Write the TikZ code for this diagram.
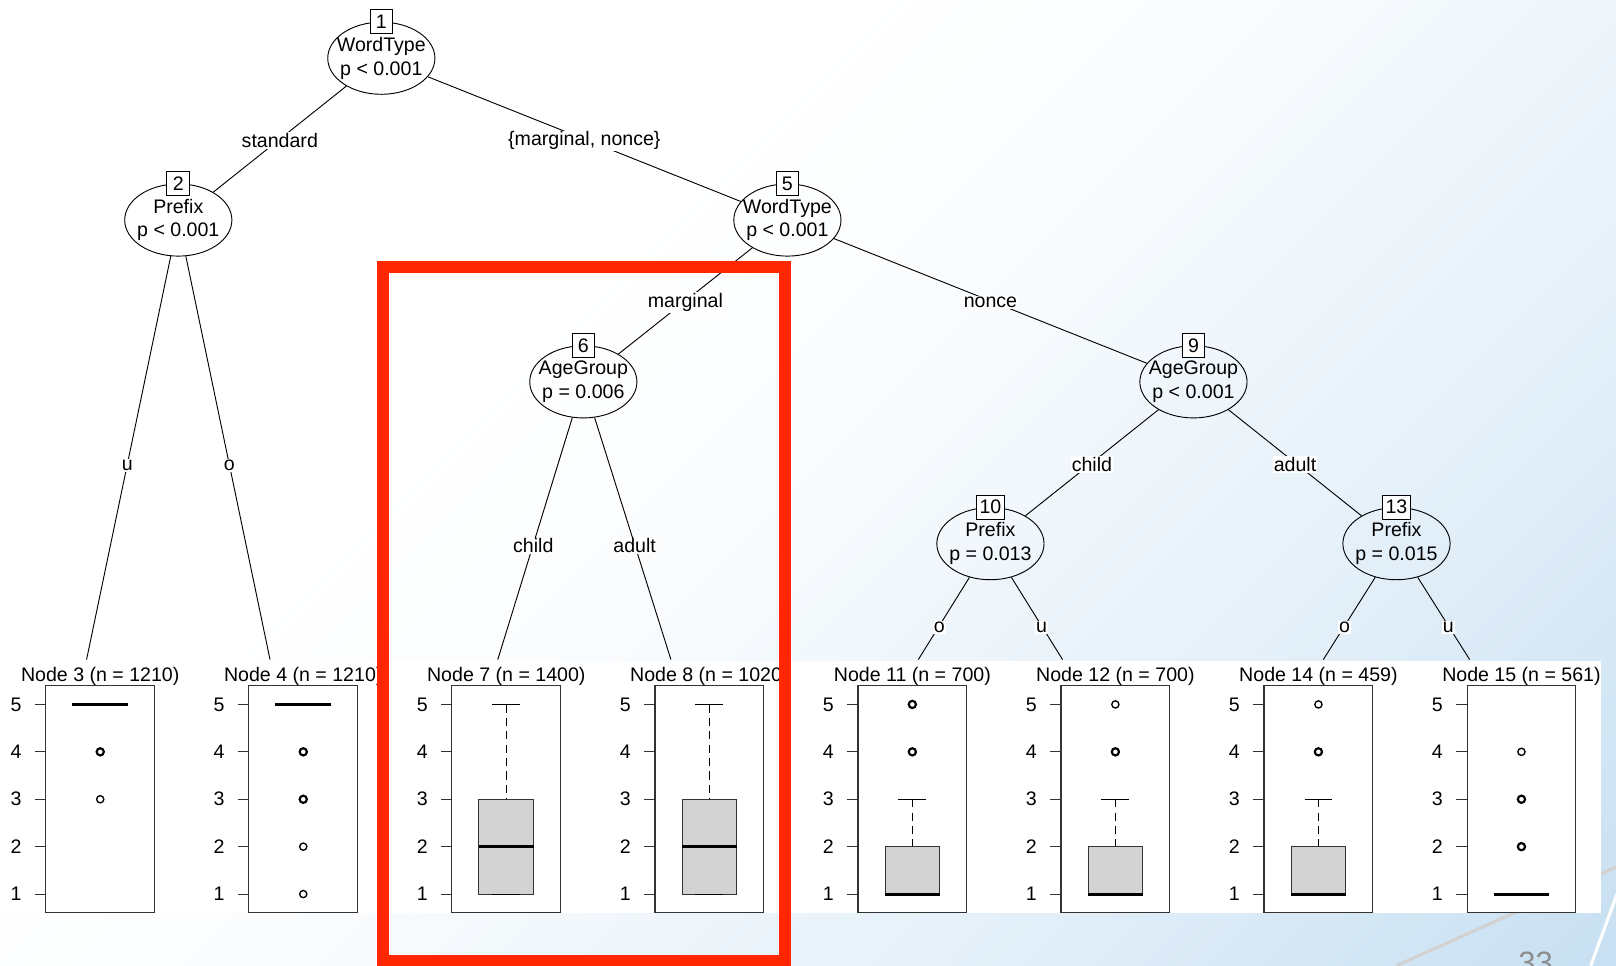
\documentclass[tikz,border=0pt]{standalone}
\usepackage{fontspec}
\setmainfont{Liberation Sans}
\usepackage{xcolor}
\usepackage{tikz}
\usetikzlibrary{shapes.geometric}

\definecolor{slidetint}{HTML}{C8E0F2}
\definecolor{slidered}{HTML}{FF2600}
\definecolor{boxgrey}{HTML}{D3D3D3}
\definecolor{framegrey}{HTML}{333333}

\pgfdeclareverticalshading{slidebg}{100bp}{color(0bp)=(slidetint); color(15bp)=(slidetint); color(32bp)=(slidetint!50!white); color(50bp)=(slidetint!12!white); color(62bp)=(white); color(100bp)=(white)}

\begin{document}
\begin{tikzpicture}[
        x=1pt, y=-1pt,
        every node/.style = {font=\fontsize{19}{23}\selectfont},
        split/.style = {draw, ellipse, line width=0.9pt, minimum width=104pt, minimum height=70pt, inner xsep=-8pt, inner ysep=0pt, align=center, execute at begin node=\rule{0pt}{18pt}},
        idbox/.style = {draw, fill=white, line width=0.9pt, minimum width=22pt, minimum height=23pt, inner xsep=3pt, inner ysep=0pt},
        branch/.style = {line width=0.9pt},
        edgelabel/.style = {fill=white, inner sep=1pt, yshift=-1.5pt},
        leaftitle/.style = {yshift=-2pt},
        panel/.style = {draw=framegrey, line width=1.1pt, minimum width=105.5pt, minimum height=220.3pt, inner sep=0pt},
        axistick/.style = {draw=framegrey, line width=1.1pt},
        iqr/.style = {draw=framegrey, fill=boxgrey, line width=1pt},
        median/.style = {line width=3pt},
        whisker/.style = {line width=0.9pt, dash pattern=on 8pt off 5pt},
        whiskerend/.style = {line width=1pt},
        outlier/.style = {line width=1.3pt},
        heavy/.style = {line width=2.1pt},
        highlight/.style = {draw=slidered, line width=11.5pt}
    ]

    \useasboundingbox (0,0) rectangle (1568,937);
    \clip (0,0) rectangle (1568,937);

    % slide background
    \shade[shading=slidebg, shading angle=45] (0,0) rectangle (1568,937);
    \draw[black!18, line width=3pt] (1355,937) -- (1600,827);
    \draw[white, line width=3pt] (1543.5,937) -- (1590,810);
    \fill[white] (0,641.5) rectangle (1553,886);

    % inner nodes
    \node[split] (n1) at (370,56.5) {WordType\\p < 0.001};
    \node[split] (n2) at (173,213.5) {Prefix\\p < 0.001};
    \node[split] (n5) at (764,213.5) {WordType\\p < 0.001};
    \node[split] (n6) at (566,370.5) {AgeGroup\\p = 0.006};
    \node[split] (n9) at (1158,370.5) {AgeGroup\\p < 0.001};
    \node[split] (n10) at (961,527.5) {Prefix\\p = 0.013};
    \node[split] (n13) at (1355,527.5) {Prefix\\p = 0.015};

    % node numbers
    \node[idbox] (id1) at (n1.north) {1};
    \node[idbox] (id2) at (n2.north) {2};
    \node[idbox] (id5) at (n5.north) {5};
    \node[idbox] (id6) at (n6.north) {6};
    \node[idbox] (id9) at (n9.north) {9};
    \node[idbox] (id10) at (n10.north) {10};
    \node[idbox] (id13) at (n13.north) {13};

    % where the branches reach the leaves
    \coordinate (e3) at (84,640);
    \coordinate (e4) at (262,640);
    \coordinate (e7) at (483,640);
    \coordinate (e8) at (651,640);
    \coordinate (e11) at (891,640);
    \coordinate (e12) at (1031,640);
    \coordinate (e14) at (1284,640);
    \coordinate (e15) at (1426,640);

    % branches
    \draw[branch] (n1) -- node[edgelabel] {standard} (n2);
    \draw[branch] (n1) -- node[edgelabel] {\{marginal, nonce\}} (n5);
    \draw[branch] (n2) -- node[edgelabel, pos=0.515] {u} (e3);
    \draw[branch] (n2) -- node[edgelabel, pos=0.515] {o} (e4);
    \draw[branch] (n5) -- node[edgelabel] {marginal} (n6);
    \draw[branch] (n5) -- node[edgelabel] {nonce} (n9);
    \draw[branch] (n6) -- node[edgelabel, pos=0.524] {child} (e7);
    \draw[branch] (n6) -- node[edgelabel, pos=0.524] {adult} (e8);
    \draw[branch] (n9) -- node[edgelabel] {child} (n10);
    \draw[branch] (n9) -- node[edgelabel] {adult} (n13);
    \draw[branch] (n10) -- node[edgelabel, pos=0.589] {o} (e11);
    \draw[branch] (n10) -- node[edgelabel, pos=0.589] {u} (e12);
    \draw[branch] (n13) -- node[edgelabel, pos=0.589] {o} (e14);
    \draw[branch] (n13) -- node[edgelabel, pos=0.589] {u} (e15);

    % leaf panels
    \foreach \k/\id/\n in {0/3/1210, 1/4/1210, 2/7/1400, 3/8/1020, 4/11/700, 5/12/700, 6/14/459, 7/15/561} {
        \node[panel] (leaf\id) at (97.25+197*\k, 775.5) {};
        \node[leaftitle] (title\id) at (97.25+197*\k, 654.5) {Node \id\ (n = \n)};
        \foreach \v in {1,...,5}
            \draw[axistick] (44.5+197*\k, 913.5-46*\v) -- ++(-11,0) node[left=12pt, inner sep=0pt] {\v};
    }

    % node 3
    \begin{scope}[shift={(97.25,913.5)}, y=46pt]
        \draw[median] (-27,5) -- (27,5);
        \draw[heavy] (0,4) circle[radius=3.5pt];
        \draw[outlier] (0,3) circle[radius=3.5pt];
    \end{scope}
    % node 4
    \begin{scope}[shift={(294.25,913.5)}, y=46pt]
        \draw[median] (-27,5) -- (27,5);
        \draw[heavy] (0,4) circle[radius=3.5pt];
        \draw[heavy] (0,3) circle[radius=3.5pt];
        \draw[outlier] (0,2) circle[radius=3.5pt];
        \draw[outlier] (0,1) circle[radius=3.5pt];
    \end{scope}
    % node 7
    \begin{scope}[shift={(491.25,913.5)}, y=46pt]
        \draw[whisker] (0,5) -- (0,3);
        \draw[whiskerend] (-13.5,5) -- (13.5,5);
        \draw[iqr] (-26.5,1) rectangle (26.5,3);
        \draw[whiskerend] (-13.5,1) -- (13.5,1);
        \draw[median] (-26.5,2) -- (26.5,2);
    \end{scope}
    % node 8
    \begin{scope}[shift={(688.25,913.5)}, y=46pt]
        \draw[whisker] (0,5) -- (0,3);
        \draw[whiskerend] (-13.5,5) -- (13.5,5);
        \draw[iqr] (-26.5,1) rectangle (26.5,3);
        \draw[whiskerend] (-13.5,1) -- (13.5,1);
        \draw[median] (-26.5,2) -- (26.5,2);
    \end{scope}
    % node 11
    \begin{scope}[shift={(885.25,913.5)}, y=46pt]
        \draw[whisker] (0,3) -- (0,2);
        \draw[whiskerend] (-13.5,3) -- (13.5,3);
        \draw[iqr] (-26.5,1) rectangle (26.5,2);
        \draw[median] (-26.5,1) -- (26.5,1);
        \draw[heavy] (0,4) circle[radius=3.5pt];
        \draw[heavy] (0,5) circle[radius=3.5pt];
    \end{scope}
    % node 12
    \begin{scope}[shift={(1082.25,913.5)}, y=46pt]
        \draw[whisker] (0,3) -- (0,2);
        \draw[whiskerend] (-13.5,3) -- (13.5,3);
        \draw[iqr] (-26.5,1) rectangle (26.5,2);
        \draw[median] (-26.5,1) -- (26.5,1);
        \draw[heavy] (0,4) circle[radius=3.5pt];
        \draw[outlier] (0,5) circle[radius=3.5pt];
    \end{scope}
    % node 14
    \begin{scope}[shift={(1279.25,913.5)}, y=46pt]
        \draw[whisker] (0,3) -- (0,2);
        \draw[whiskerend] (-13.5,3) -- (13.5,3);
        \draw[iqr] (-26.5,1) rectangle (26.5,2);
        \draw[median] (-26.5,1) -- (26.5,1);
        \draw[heavy] (0,4) circle[radius=3.5pt];
        \draw[outlier] (0,5) circle[radius=3.5pt];
    \end{scope}
    % node 15
    \begin{scope}[shift={(1476.25,913.5)}, y=46pt]
        \draw[median] (-27,1) -- (27,1);
        \draw[heavy] (0,2) circle[radius=3.5pt];
        \draw[heavy] (0,3) circle[radius=3.5pt];
        \draw[outlier] (0,4) circle[radius=3.5pt];
    \end{scope}

    % red frame round node 6
    \draw[highlight] (372,259) rectangle (762,932.5);

    % slide number
    \node[font=\fontsize{30}{36}\selectfont, text=black!45, anchor=base] (pagenum) at (1490,945) {33};

\end{tikzpicture}
\end{document}
